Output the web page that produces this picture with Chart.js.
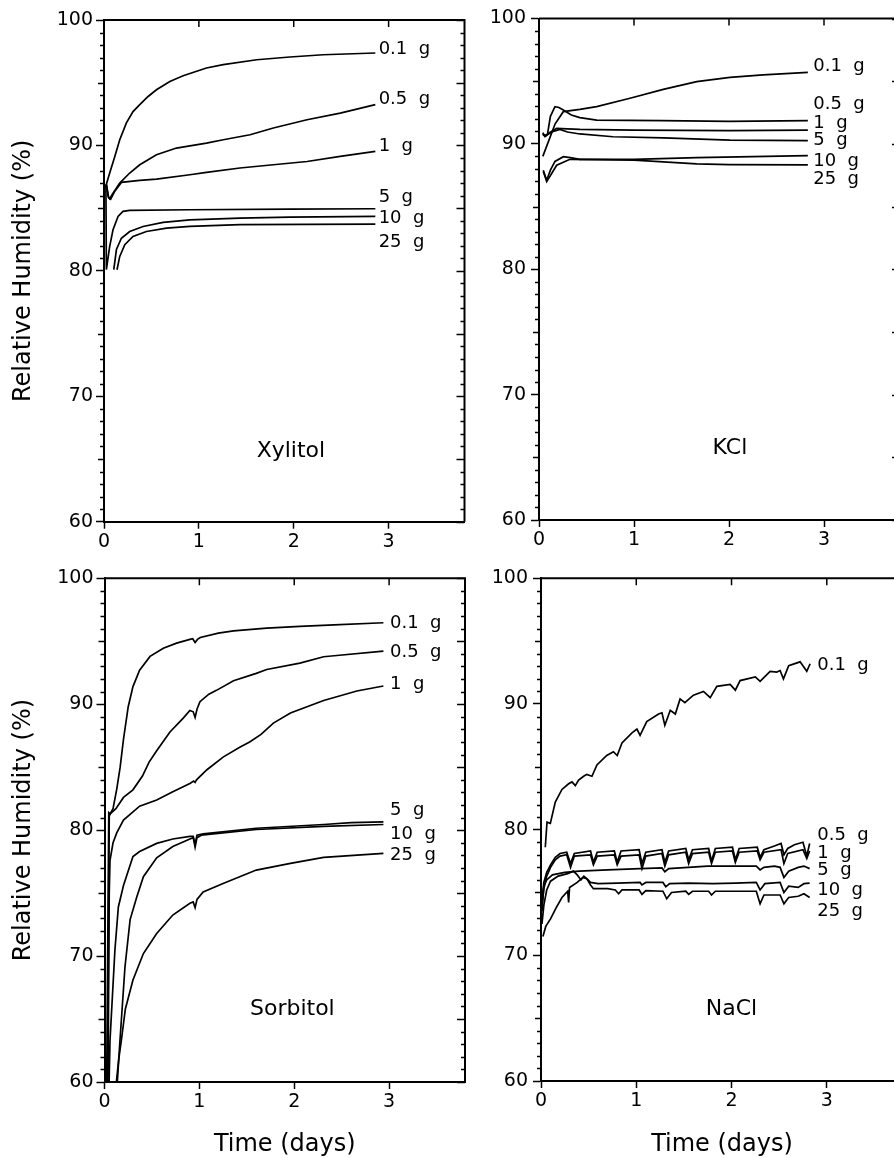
<!DOCTYPE html>
<html>
<head>
<meta charset="utf-8">
<script src="https://cdn.jsdelivr.net/npm/chart.js@4.4.1/dist/chart.umd.min.js"></script>
<style>
html,body{margin:0;padding:0;background:#fff;overflow:hidden;width:894px;height:1158px;}
canvas{position:absolute;}
</style>
</head>
<body>
<canvas id="c1" width="470" height="560" style="left:0;top:0"></canvas>
<canvas id="c2" width="440" height="560" style="left:470px;top:0"></canvas>
<canvas id="c3" width="470" height="598" style="left:0;top:560px"></canvas>
<canvas id="c4" width="440" height="598" style="left:470px;top:560px"></canvas>
<script>
// ---- axis ticks ----
const xTicks = [0, 1, 2, 3];
const yTicks = [60, 70, 80, 90, 100];
const seriesLabels = ['0.1  g', '0.5  g', '1  g', '5  g', '10  g', '25  g'];

// ---- Xylitol (time in days, RH %) ----
const xyl_01 = [[0.025,86.9],[0.06,87.8],[0.113,89.1],[0.166,90.45],[0.236,91.8],[0.306,92.7],[0.377,93.25],[0.465,93.9],[0.553,94.44],[0.694,95.1],[0.834,95.56],[1.08,96.17],[1.257,96.44],[1.61,96.83],[1.96,97.05],[2.31,97.23],[2.86,97.37]];
const xyl_05 = [[0.025,86.9],[0.045,85.9],[0.06,85.75],[0.095,86.2],[0.166,87.0],[0.271,87.8],[0.377,88.46],[0.553,89.26],[0.764,89.79],[1.08,90.19],[1.257,90.45],[1.54,90.85],[1.785,91.39],[2.14,92.05],[2.49,92.58],[2.86,93.25]];
const xyl_1 = [[0.025,86.9],[0.05,85.8],[0.07,85.7],[0.11,86.3],[0.183,87.05],[0.377,87.21],[0.553,87.32],[0.905,87.66],[1.08,87.85],[1.433,88.2],[1.785,88.46],[2.14,88.72],[2.49,89.12],[2.86,89.52]];
const xyl_5 = [[0.02,86.9],[0.025,80.1],[0.06,81.95],[0.095,83.28],[0.148,84.34],[0.2,84.74],[0.271,84.82],[0.905,84.87],[1.96,84.92],[2.86,84.95]];
const xyl_10 = [[0.103,80.09],[0.131,81.7],[0.183,82.6],[0.271,83.14],[0.412,83.54],[0.623,83.86],[0.905,84.07],[1.433,84.2],[1.96,84.29],[2.86,84.34]];
const xyl_25 = [[0.137,80.09],[0.166,81.15],[0.219,82.08],[0.306,82.74],[0.447,83.14],[0.659,83.41],[0.905,83.54],[1.433,83.68],[2.86,83.73]];
const xylLabelY = [97.7, 93.64, 89.92, 85.87, 84.2, 82.28];

// ---- KCl ----
const kcl_01 = [[0.04,89.0],[0.10,90.2],[0.17,91.6],[0.256,92.57],[0.43,92.75],[0.607,92.97],[0.958,93.64],[1.308,94.35],[1.66,94.96],[2.01,95.31],[2.36,95.5],[2.83,95.7]];
const kcl_05 = [[0.04,90.9],[0.06,90.6],[0.09,90.8],[0.12,92.2],[0.168,92.97],[0.21,92.9],[0.256,92.7],[0.34,92.3],[0.43,92.1],[0.607,91.9],[1.3,91.85],[2.0,91.8],[2.83,91.85]];
const kcl_1 = [[0.04,90.8],[0.07,90.6],[0.11,90.9],[0.186,91.24],[0.3,91.2],[0.43,91.15],[1.0,91.1],[2.0,91.05],[2.83,91.1]];
const kcl_5 = [[0.04,90.7],[0.08,90.7],[0.15,91.0],[0.221,91.16],[0.30,90.95],[0.43,90.79],[0.78,90.57],[1.31,90.48],[2.01,90.3],[2.83,90.26]];
const kcl_10 = [[0.045,87.9],[0.081,87.1],[0.12,87.9],[0.168,88.6],[0.256,88.98],[0.33,88.9],[0.43,88.77],[1.0,88.77],[1.66,88.9],[2.83,89.06]];
const kcl_25 = [[0.045,87.8],[0.081,86.99],[0.13,87.6],[0.186,88.3],[0.326,88.77],[0.6,88.75],[1.0,88.7],[1.66,88.4],[2.0,88.35],[2.83,88.32]];
const kclLabelY = [96.16, 93.18, 91.64, 90.26, 88.58, 87.17];

// ---- Sorbitol ----
const sor_01 = [[0.02,57],[0.045,81.4],[0.06,81.3],[0.09,81.7],[0.13,83.3],[0.165,85.0],[0.2,87.2],[0.25,89.8],[0.30,91.4],[0.37,92.7],[0.48,93.8],[0.62,94.45],[0.76,94.85],[0.90,95.15],[0.93,95.2],[0.955,94.9],[0.98,95.15],[1.01,95.3],[1.2,95.65],[1.36,95.83],[1.71,96.04],[2.06,96.19],[2.42,96.3],[2.94,96.47]];
const sor_05 = [[0.03,57],[0.05,81.1],[0.06,81.3],[0.12,81.7],[0.2,82.6],[0.3,83.2],[0.4,84.3],[0.47,85.4],[0.55,86.3],[0.69,87.8],[0.83,88.9],[0.90,89.5],[0.935,89.4],[0.955,88.95],[0.975,89.6],[1.006,90.2],[1.1,90.8],[1.18,91.1],[1.36,91.87],[1.6,92.45],[1.71,92.76],[2.06,93.27],[2.31,93.77],[2.42,93.85],[2.94,94.22]];
const sor_1 = [[0.035,57],[0.05,75],[0.058,77.6],[0.09,79.0],[0.13,79.8],[0.2,80.8],[0.37,81.9],[0.55,82.4],[0.72,83.05],[0.90,83.7],[0.94,83.9],[0.955,83.8],[0.97,84.0],[1.08,84.8],[1.25,85.8],[1.43,86.6],[1.53,87.0],[1.65,87.6],[1.78,88.5],[1.96,89.3],[2.31,90.3],[2.66,91.05],[2.94,91.45]];
const sor_5 = [[0.04,57],[0.058,63.3],[0.11,70.5],[0.146,73.9],[0.2,75.6],[0.3,77.9],[0.37,78.3],[0.55,78.95],[0.72,79.3],[0.90,79.5],[0.935,79.5],[0.955,78.9],[0.975,79.6],[1.04,79.7],[1.6,80.15],[2.31,80.45],[2.6,80.6],[2.94,80.65]];
const sor_10 = [[0.12,57],[0.135,60],[0.163,63.3],[0.216,69.15],[0.27,72.9],[0.34,74.7],[0.41,76.3],[0.55,77.8],[0.72,78.7],[0.90,79.3],[0.935,79.4],[0.955,78.65],[0.975,79.4],[1.02,79.6],[1.6,80.05],[2.31,80.3],[2.94,80.45]];
const sor_25 = [[0.11,57],[0.125,60],[0.15,61.8],[0.181,63.5],[0.22,65.8],[0.30,68.1],[0.41,70.2],[0.55,71.8],[0.72,73.26],[0.90,74.2],[0.935,74.3],[0.955,73.85],[0.975,74.5],[1.04,75.1],[1.25,75.77],[1.6,76.83],[1.96,77.36],[2.31,77.84],[2.94,78.16]];
const sorLabelY = [96.43, 94.09, 91.6, 81.6, 79.69, 78.02];

// ---- NaCl ----
const nacl_01 = [[0.045,78.6],[0.063,80.6],[0.098,80.5],[0.15,82.2],[0.22,83.2],[0.29,83.65],[0.325,83.8],[0.36,83.5],[0.395,83.95],[0.448,84.25],[0.48,84.4],[0.535,84.25],[0.587,85.15],[0.69,85.9],[0.76,86.2],[0.80,85.9],[0.85,86.9],[0.955,87.7],[1.007,88.0],[1.04,87.5],[1.11,88.6],[1.234,89.2],[1.27,89.3],[1.30,88.3],[1.357,89.5],[1.41,89.2],[1.46,90.4],[1.51,90.1],[1.60,90.7],[1.706,91.0],[1.776,90.5],[1.846,91.4],[1.986,91.55],[2.04,91.1],[2.09,91.86],[2.25,92.15],[2.30,91.8],[2.405,92.6],[2.475,92.54],[2.51,92.66],[2.545,92.0],[2.60,93.05],[2.72,93.35],[2.79,92.6],[2.825,93.2]];
const nacl_05 = [[0.01,74.5],[0.03,75.8],[0.06,76.6],[0.10,77.2],[0.15,77.8],[0.20,78.1],[0.27,78.2],[0.31,77.3],[0.35,78.1],[0.52,78.3],[0.55,77.4],[0.59,78.2],[0.77,78.3],[0.80,77.4],[0.84,78.3],[1.03,78.4],[1.06,77.3],[1.10,78.2],[1.27,78.4],[1.30,77.4],[1.34,78.3],[1.52,78.5],[1.55,77.6],[1.59,78.4],[1.76,78.5],[1.79,77.5],[1.83,78.5],[2.01,78.6],[2.04,77.6],[2.08,78.5],[2.27,78.6],[2.30,77.8],[2.34,78.4],[2.45,78.7],[2.52,78.9],[2.55,78.0],[2.59,78.5],[2.66,78.8],[2.75,79.0],[2.79,77.9],[2.82,78.9]];
const nacl_1 = [[0.01,74.0],[0.03,75.3],[0.06,76.3],[0.10,77.0],[0.15,77.6],[0.20,77.9],[0.27,78.0],[0.31,77.0],[0.35,77.9],[0.52,78.0],[0.55,77.2],[0.59,77.9],[0.77,78.0],[0.80,77.2],[0.84,77.9],[1.03,78.0],[1.06,76.9],[1.10,77.9],[1.27,78.1],[1.30,77.1],[1.34,78.0],[1.52,78.2],[1.55,77.3],[1.59,78.1],[1.76,78.2],[1.79,77.3],[1.83,78.2],[2.01,78.3],[2.04,77.4],[2.08,78.2],[2.27,78.3],[2.30,77.6],[2.34,78.2],[2.52,78.4],[2.55,77.3],[2.59,78.1],[2.75,78.4],[2.79,77.7],[2.82,78.3]];
const nacl_5 = [[0.01,73.5],[0.03,75.5],[0.06,76.0],[0.12,76.4],[0.25,76.6],[0.4,76.7],[0.7,76.8],[1.04,76.9],[1.27,76.95],[1.30,76.65],[1.34,76.9],[1.75,77.1],[2.02,77.1],[2.26,77.1],[2.30,76.8],[2.34,77.0],[2.45,77.1],[2.51,77.0],[2.55,76.2],[2.60,76.7],[2.70,77.0],[2.76,77.1],[2.82,76.9]];
const nacl_10 = [[0.01,72.5],[0.03,74.0],[0.06,75.2],[0.10,75.9],[0.18,76.3],[0.28,76.5],[0.34,76.7],[0.38,76.4],[0.42,76.0],[0.45,76.3],[0.48,76.1],[0.52,75.8],[0.6,75.7],[0.8,75.75],[1.04,75.8],[1.06,75.6],[1.10,75.8],[1.28,75.8],[1.31,75.45],[1.35,75.7],[1.55,75.75],[1.8,75.7],[2.04,75.75],[2.26,75.8],[2.30,75.2],[2.35,75.7],[2.51,75.8],[2.55,75.0],[2.60,75.5],[2.70,75.4],[2.76,75.7],[2.82,75.75]];
const nacl_25 = [[0.02,71.5],[0.05,72.3],[0.10,72.9],[0.16,73.8],[0.22,74.6],[0.28,75.1],[0.29,74.2],[0.30,75.4],[0.38,75.8],[0.44,76.2],[0.48,76.1],[0.52,75.6],[0.55,75.3],[0.7,75.3],[0.78,75.2],[0.815,74.9],[0.85,75.2],[1.03,75.2],[1.06,74.85],[1.10,75.15],[1.28,75.1],[1.32,74.5],[1.37,75.0],[1.52,75.1],[1.55,74.85],[1.59,75.1],[1.76,75.1],[1.79,74.8],[1.83,75.1],[2.04,75.1],[2.26,75.1],[2.30,74.1],[2.34,74.8],[2.51,74.8],[2.55,74.1],[2.60,74.6],[2.70,74.7],[2.76,74.9],[2.82,74.6]];
const naclLabelY = [93.05, 79.52, 78.12, 76.74, 75.15, 73.52];

const FONT = '"DejaVu Sans", sans-serif';

function framePlugin(p) {
  return {
    id: 'frame_' + p.id,
    afterDraw(chart) {
      const {ctx, chartArea: a, scales: {x, y}} = chart;
      ctx.save();
      ctx.strokeStyle = '#000';
      ctx.lineWidth = 2;
      ctx.beginPath();
      ctx.moveTo(a.left, a.top); ctx.lineTo(a.right, a.top); ctx.lineTo(a.right, a.bottom);
      ctx.stroke();
      ctx.lineWidth = 1.5;
      ctx.beginPath();
      for (let v = 60; v <= 100; v++) {
        const py = Math.round(y.getPixelForValue(v)) + 0.5;
        const major = v % 10 === 0, mid = v % 5 === 0;
        if (!major) { const l = mid ? 6 : 4; ctx.moveTo(a.left - l, py); ctx.lineTo(a.left, py); }
        const r = (major || mid) ? 8 : 4;
        ctx.moveTo(a.right, py); ctx.lineTo(a.right - r, py);
      }
      xTicks.forEach(v => {
        if (v === 0) return;
        const px = x.getPixelForValue(v);
        ctx.moveTo(px, a.top); ctx.lineTo(px, a.top + 7);
      });
      ctx.stroke();
      ctx.fillStyle = '#000';
      ctx.font = '18px ' + FONT;
      ctx.textBaseline = 'middle';
      ctx.textAlign = 'left';
      seriesLabels.forEach((t, i) => {
        ctx.fillText(t, x.getPixelForValue(p.labelX), y.getPixelForValue(p.labelY[i]));
      });
      ctx.font = '22px ' + FONT;
      ctx.textAlign = 'center';
      ctx.fillText(p.name, x.getPixelForValue(p.nameX), y.getPixelForValue(p.nameY));
      ctx.restore();
    }
  };
}

function makeChart(p) {
  new Chart(document.getElementById(p.id), {
    type: 'line',
    data: {
      datasets: p.series.map(s => ({
        data: s.map(pt => ({x: pt[0], y: pt[1]})),
        borderColor: '#000', borderWidth: 1.7, pointRadius: 0, tension: 0, fill: false
      }))
    },
    options: {
      responsive: false, animation: false, devicePixelRatio: 1,
      layout: {padding: {top: p.padTop, right: p.padRight, left: 0, bottom: 0}},
      plugins: {legend: {display: false}, tooltip: {enabled: false}},
      scales: {
        x: {
          type: 'linear', min: 0, max: 3.8,
          afterBuildTicks: s => { s.ticks = xTicks.map(v => ({value: v})); },
          afterFit: s => { s.height = p.xH; },
          grid: {drawOnChartArea: false, drawTicks: true, tickLength: 7, tickWidth: 1.5, color: '#000', tickColor: '#000'},
          border: {display: true, color: '#000', width: 2},
          ticks: {color: '#000', font: {family: FONT, size: 19}, padding: 2, maxRotation: 0, autoSkip: false},
          title: {display: p.xTitle, text: 'Time (days)', color: '#000', font: {family: FONT, size: 24, lineHeight: 1.1}, padding: {top: 0, bottom: 0}}
        },
        y: {
          type: 'linear', min: 60, max: 100,
          afterBuildTicks: s => { s.ticks = yTicks.map(v => ({value: v})); },
          afterFit: s => { s.width = p.yW; },
          grid: {drawOnChartArea: false, drawTicks: true, tickLength: 8, tickWidth: 1.5, color: '#000', tickColor: '#000'},
          border: {display: true, color: '#000', width: 2},
          ticks: {color: '#000', font: {family: FONT, size: 19}, padding: p.tickPad, autoSkip: false},
          title: {display: p.yTitle, text: 'Relative Humidity (%)', color: '#000', font: {family: FONT, size: 24, lineHeight: 1.2}, padding: {top: 9, bottom: 0}}
        }
      }
    },
    plugins: [framePlugin(p)]
  });
}

makeChart({id: 'c1', series: [xyl_01, xyl_05, xyl_1, xyl_5, xyl_10, xyl_25], labelY: xylLabelY, labelX: 2.895,
  name: 'Xylitol', nameX: 1.97, nameY: 65.6, padTop: 20, padRight: 5.5, xH: 38.3, yW: 104, tickPad: 3, xTitle: false, yTitle: true});
makeChart({id: 'c2', series: [kcl_01, kcl_05, kcl_1, kcl_5, kcl_10, kcl_25], labelY: kclLabelY, labelX: 2.887,
  name: 'KCl', nameX: 2.01, nameY: 65.7, padTop: 18.5, padRight: 10, xH: 40, yW: 69, tickPad: 5, xTitle: false, yTitle: false});
makeChart({id: 'c3', series: [sor_01, sor_05, sor_1, sor_5, sor_10, sor_25], labelY: sorLabelY, labelX: 3.01,
  name: 'Sorbitol', nameX: 1.98, nameY: 65.8, padTop: 18.3, padRight: 5, xH: 76, yW: 104.5, tickPad: 3, xTitle: true, yTitle: true});
makeChart({id: 'c4', series: [nacl_01, nacl_05, nacl_1, nacl_5, nacl_10, nacl_25], labelY: naclLabelY, labelX: 2.9,
  name: 'NaCl', nameX: 2.0, nameY: 65.7, padTop: 18.3, padRight: 7, xH: 77, yW: 71, tickPad: 5, xTitle: true, yTitle: false});
</script>
</body>
</html>
